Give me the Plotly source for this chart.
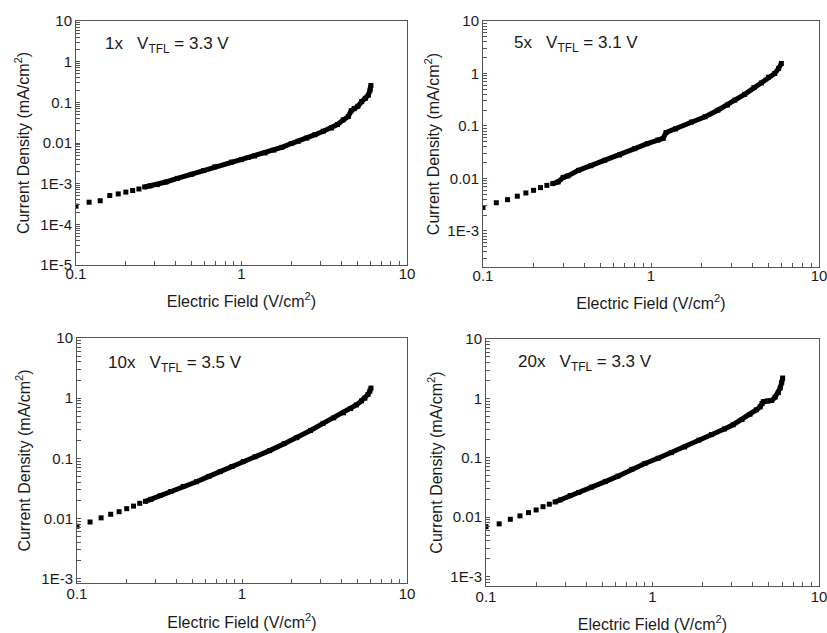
import plotly.graph_objects as go

# ---------------- data ----------------
# 1x
x_1x = [0.10, 0.12, 0.14, 0.16, 0.18, 0.20, 0.22, 0.24, 0.26, 0.28, 0.31, 0.35, 0.41, 0.50,
        0.59, 0.69, 0.87, 1.00, 1.10, 1.20, 1.39, 1.57, 1.75, 2.00, 2.20, 2.48, 2.78, 3.12,
        3.50, 3.80, 4.12, 4.42, 4.60, 4.80, 5.05, 5.32, 5.60, 5.84, 5.98, 6.05]
y_1x = [2.8e-4, 3.5e-4, 3.8e-4, 5.1e-4, 5.6e-4, 6.2e-4, 6.8e-4, 7.4e-4, 8.3e-4, 8.8e-4,
        9.5e-4, 1.1e-3, 1.35e-3, 1.7e-3, 2.1e-3, 2.6e-3, 3.4e-3, 3.9e-3, 4.4e-3, 4.8e-3,
        5.7e-3, 6.7e-3, 7.8e-3, 9.7e-3, 1.1e-2, 1.32e-2, 1.6e-2, 1.95e-2, 2.35e-2, 2.85e-2,
        3.7e-2, 4.5e-2, 6.2e-2, 7.0e-2, 8.0e-2, 1.04e-1, 1.25e-1, 1.5e-1, 2.0e-1, 2.6e-1]

# 5x
x_5x = [0.10, 0.12, 0.14, 0.16, 0.18, 0.20, 0.22, 0.24, 0.26, 0.28, 0.30, 0.32, 0.37, 0.44,
        0.53, 0.65, 0.80, 0.95, 1.10, 1.18, 1.23, 1.40, 1.74, 2.10, 2.50, 2.85, 3.15, 3.61,
        4.10, 4.54, 5.00, 5.45, 5.75, 5.97]
y_5x = [2.8e-3, 3.45e-3, 3.95e-3, 4.6e-3, 5.3e-3, 5.95e-3, 6.7e-3, 7.4e-3, 8.0e-3, 8.6e-3,
        1.05e-2, 1.12e-2, 1.43e-2, 1.75e-2, 2.22e-2, 2.8e-2, 3.7e-2, 4.6e-2, 5.4e-2, 5.8e-2,
        7.5e-2, 8.8e-2, 1.19e-1, 1.5e-1, 2.0e-1, 2.5e-1, 3.1e-1, 4.0e-1, 5.4e-1, 6.6e-1,
        8.5e-1, 1.0, 1.25, 1.55]

# 10x
x_10x = [0.10, 0.12, 0.14, 0.16, 0.18, 0.20, 0.22, 0.24, 0.26, 0.28, 0.32, 0.37, 0.44, 0.53,
         0.63, 0.74, 0.87, 1.02, 1.20, 1.47, 1.80, 2.15, 2.60, 3.10, 3.60, 4.12, 4.55, 4.93,
         5.30, 5.56, 5.80, 5.95, 6.05]
y_10x = [7.4e-3, 8.7e-3, 1.02e-2, 1.17e-2, 1.29e-2, 1.45e-2, 1.6e-2, 1.78e-2, 1.92e-2,
         2.07e-2, 2.4e-2, 2.8e-2, 3.4e-2, 4.07e-2, 5.0e-2, 6.0e-2, 7.3e-2, 8.8e-2, 1.06e-1,
         1.34e-1, 1.75e-1, 2.2e-1, 2.9e-1, 3.8e-1, 4.7e-1, 5.7e-1, 6.7e-1, 7.7e-1, 9.0e-1,
         1.0, 1.15, 1.3, 1.47]

# 20x
x_20x = [0.10, 0.12, 0.14, 0.16, 0.18, 0.20, 0.22, 0.24, 0.26, 0.28, 0.32, 0.36, 0.43, 0.52,
         0.62, 0.75, 0.90, 1.08, 1.30, 1.56, 1.90, 2.26, 2.70, 3.05, 3.45, 3.85, 4.20, 4.43,
         4.55, 4.63, 4.90, 5.20, 5.45, 5.70, 5.85, 5.97, 6.05]
y_20x = [6.9e-3, 7.7e-3, 9.2e-3, 1.05e-2, 1.19e-2, 1.32e-2, 1.5e-2, 1.65e-2, 1.8e-2, 1.95e-2,
         2.3e-2, 2.6e-2, 3.2e-2, 3.97e-2, 4.9e-2, 6.4e-2, 8.0e-2, 9.8e-2, 1.22e-1, 1.52e-1,
         1.98e-1, 2.45e-1, 3.05e-1, 3.6e-1, 4.4e-1, 5.4e-1, 6.4e-1, 7.2e-1, 8.2e-1, 8.8e-1,
         9.0e-1, 9.2e-1, 1.05, 1.25, 1.5, 1.85, 2.2]

labels = ["1x", "5x", "10x", "20x"]
vtfl = ["3.3", "3.1", "3.5", "3.3"]

x_tick_vals = [0.1, 1, 10]
x_tick_text = ["0.1", "1", "10"]
y_tick_vals_full = [10, 1, 0.1, 0.01, 1e-3, 1e-4, 1e-5]
y_tick_text_full = ["10", "1", "0.1", "0.01", "1E-3", "1E-4", "1E-5"]

# ---------------- tick positions (major labelled + unlabelled minor) ----------------
minor_x = [m * 10 ** k for k in (-1, 0) for m in range(2, 10)]
minor_y = [m * 10 ** k for k in range(-6, 1) for m in range(2, 10)]
xt_vals = x_tick_vals + minor_x
xt_text = x_tick_text + [""] * len(minor_x)

# ---------------- layout geometry ----------------
W, H = 827, 633
panels = [
    dict(px=(76, 407), py=(21, 265), yr=(-5, 1), x=x_1x, y=y_1x, nt=7, ys=6, xl=-5, xs=14),
    dict(px=(483, 819), py=(21, 267), yr=(-3.686, 1), x=x_5x, y=y_5x, nt=5, ys=3, xl=-5, xs=14),
    dict(px=(77, 407), py=(338, 583), yr=(-3.075, 1), x=x_10x, y=y_10x, nt=5, ys=6, xl=-3, xs=15),
    dict(px=(486, 819), py=(339, 586), yr=(-3.16, 1), x=x_20x, y=y_20x, nt=5, ys=3, xl=-3, xs=15),
]
label_pos = [(103, 45), (512, 44), (106, 364), (516, 363)]

FONT = "Liberation Sans, Arial, sans-serif"
TXT = "#1a1a1a"
AX = "#555555"

fig = go.Figure()
layout = dict(width=W, height=H, margin=dict(l=0, r=0, t=0, b=0, autoexpand=False),
              paper_bgcolor="white", plot_bgcolor="white", showlegend=False,
              font=dict(family=FONT, size=15, color=TXT))
annotations = []
for i, p in enumerate(panels):
    n = "" if i == 0 else str(i + 1)
    xa, ya = "x" + n, "y" + n
    dx = [p["px"][0] / W, p["px"][1] / W]
    dy = [1 - p["py"][1] / H, 1 - p["py"][0] / H]
    lo = 10 ** p["yr"][0]
    yv = [v for v in y_tick_vals_full[:p["nt"]]] + [v for v in minor_y if v >= lo]
    yt = y_tick_text_full[:p["nt"]] + [""] * (len(yv) - p["nt"])
    common = dict(showline=True, linecolor=AX, linewidth=1, mirror=True,
                  ticks="inside", ticklen=4, tickcolor=AX, tickwidth=1, showgrid=False,
                  zeroline=False, type="log", tickfont=dict(size=15, color=TXT),
                  tickmode="array", automargin=False)
    layout["xaxis" + n] = dict(common, domain=dx, range=[-1, 1], anchor=ya,
                               tickvals=xt_vals, ticktext=xt_text,
                               ticklabelstandoff=p["xl"], ticklabeloverflow="allow",
                               title=dict(text="Electric Field (V/cm<sup>2</sup>)",
                                          font=dict(size=16, color=TXT), standoff=p["xs"]))
    layout["yaxis" + n] = dict(common, domain=dy, range=list(p["yr"]), anchor=xa,
                               tickvals=yv, ticktext=yt,
                               title=dict(text="Current Density (mA/cm<sup>2</sup>)",
                                          font=dict(size=16, color=TXT), standoff=p["ys"]))
    k = 8
    fig.add_trace(go.Scatter(x=p["x"][k:], y=p["y"][k:], mode="lines",
                             line=dict(color="black", width=5),
                             xaxis=xa, yaxis=ya, hoverinfo="skip"))
    fig.add_trace(go.Scatter(x=p["x"], y=p["y"], mode="markers",
                             marker=dict(symbol="square", size=5, color="black"),
                             xaxis=xa, yaxis=ya))
    lx, ly = label_pos[i]
    annotations.append(dict(
        text=labels[i] + "\u00a0\u00a0\u00a0V<sub>TFL</sub> = " + vtfl[i] + " V",
        x=lx / W, y=1 - ly / H, xref="paper", yref="paper",
        xanchor="left", yanchor="middle", showarrow=False,
        font=dict(size=17, color=TXT, family=FONT)))

layout["annotations"] = annotations
fig.update_layout(**layout)
fig.write_html("out.html", config={"displayModeBar": False},
               post_script="document.body.style.margin='0';document.body.style.padding='0';")
